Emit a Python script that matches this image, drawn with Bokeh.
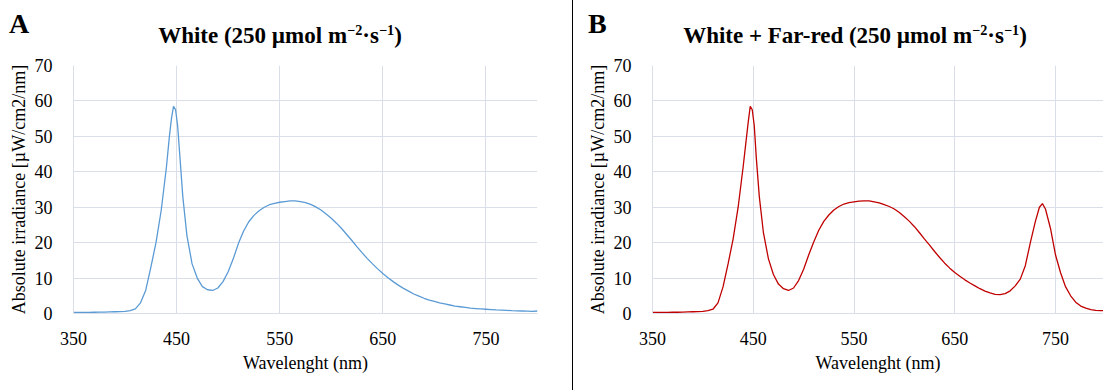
from bokeh.plotting import figure
from bokeh.models import Div, FixedTicker, Range1d
from bokeh.layouts import row, column
from bokeh.embed import file_html
from bokeh.resources import INLINE

# ---------------- data ----------------
x_ticks = [350, 450, 550, 650, 750]
y_ticks = [0, 10, 20, 30, 40, 50, 60, 70]

wl_white = [350, 355, 360, 365, 370, 375, 380, 385, 390, 395, 400, 405, 410, 415, 420, 425,
            430, 435, 440, 443, 445, 447, 449, 451, 453, 456, 460, 465, 470, 475, 480, 485,
            490, 495, 500, 505, 510, 515, 520, 525, 530, 535, 540, 545, 550, 555, 560, 565,
            570, 575, 580, 585, 590, 595, 600, 605, 610, 615, 620, 625, 630, 635, 640, 645,
            650, 655, 660, 665, 670, 675, 680, 685, 690, 695, 700, 705, 710, 715, 720, 725,
            730, 735, 740, 745, 750, 755, 760, 765, 770, 775, 780, 785, 790, 795, 800]
irr_white = [0.3, 0.3, 0.3, 0.3, 0.35, 0.4, 0.4, 0.45, 0.5, 0.55, 0.6, 0.8, 1.3, 3.0, 6.5, 13.0,
             20.0, 29.0, 41.0, 50.0, 55.0, 58.5, 57.5, 53.0, 45.0, 33.0, 22.0, 14.0, 10.0, 7.6, 6.7, 6.5,
             7.2, 9.0, 11.8, 15.5, 19.8, 23.3, 25.9, 27.7, 29.0, 30.0, 30.7, 31.1, 31.4, 31.6, 31.8, 31.8,
             31.6, 31.3, 30.8, 30.1, 29.2, 28.1, 26.9, 25.5, 24.0, 22.3, 20.6, 18.8, 17.1, 15.5, 14.0, 12.6,
             11.3, 10.1, 9.0, 8.0, 7.1, 6.3, 5.5, 4.9, 4.3, 3.8, 3.4, 3.0, 2.7, 2.4, 2.1, 1.9,
             1.7, 1.5, 1.4, 1.3, 1.2, 1.1, 1.0, 0.95, 0.9, 0.8, 0.75, 0.7, 0.65, 0.6, 0.7]

wl_fr = [350, 355, 360, 365, 370, 375, 380, 385, 390, 395, 400, 405, 410, 415, 420, 425,
         430, 435, 440, 445, 447, 449, 451, 453, 456, 460, 465, 470, 475, 480, 485, 490,
         495, 500, 505, 510, 515, 520, 525, 530, 535, 540, 545, 550, 555, 560, 565, 570,
         575, 580, 585, 590, 595, 600, 605, 610, 615, 620, 625, 630, 635, 640, 645, 650,
         655, 660, 665, 670, 675, 680, 685, 690, 695, 700, 705, 710, 715, 720, 725, 730,
         734, 737, 740, 745, 750, 755, 760, 765, 770, 775, 780, 785, 790, 795, 800]
irr_fr = [0.3, 0.3, 0.3, 0.3, 0.35, 0.35, 0.4, 0.45, 0.5, 0.55, 0.6, 0.8, 1.2, 3.0, 7.5, 14.0,
          21.0, 30.0, 41.5, 54.0, 58.5, 57.5, 53.0, 44.0, 33.0, 23.0, 15.5, 11.0, 8.3, 7.0, 6.5, 7.2,
          9.3, 12.5, 16.5, 20.2, 23.5, 26.0, 27.8, 29.2, 30.2, 30.9, 31.3, 31.5, 31.7, 31.8, 31.8, 31.5,
          31.2, 30.7, 30.2, 29.5, 28.5, 27.3, 26.0, 24.5, 22.8, 21.0, 19.3, 17.5, 15.8, 14.2, 12.8, 11.6,
          10.5, 9.5, 8.6, 7.8, 7.0, 6.3, 5.8, 5.4, 5.3, 5.6, 6.4, 7.8, 9.7, 13.5, 20.0, 26.0,
          30.0, 31.0, 29.5, 24.0, 16.5, 11.5, 7.5, 5.0, 3.2, 2.1, 1.5, 1.1, 0.9, 0.8, 0.8]

SUP = '<sup style="font-size:62%;line-height:0;vertical-align:0.55em;">'
title_a = "White (250 µmol m" + SUP + "−2</sup>·s" + SUP + "−1</sup>)"
title_b = "White + Far-red (250 µmol m" + SUP + "−2</sup>·s" + SUP + "−1</sup>)"
x_label = "Wavelenght (nm)"
y_label = "Absolute irradiance [µW/cm2/nm]"

SERIF = "Liberation Serif"
CSS_SERIF = "'Liberation Serif','Times New Roman',serif"
GRID = "#D9DEE8"
HEADER_H = 50
TOTAL_H = 390


def header(width, letter, letter_left, title, title_center):
    html = (
        f'<div style="position:relative;width:{width}px;height:{HEADER_H}px;'
        f'font-family:{CSS_SERIF};color:black;">'
        f'<span style="position:absolute;left:{letter_left}px;top:9.5px;font-size:28px;'
        f'font-weight:bold;line-height:28px;">{letter}</span>'
        f'<span style="position:absolute;left:{title_center - 300}px;top:23.7px;width:600px;'
        f'text-align:center;font-size:23px;font-weight:bold;line-height:23px;'
        f'white-space:nowrap;">{title}</span></div>'
    )
    return Div(text=html, width=width, height=HEADER_H, margin=0)


def make_panel(width, border_left, border_right, x_end, xs, ys, color):
    p = figure(width=width, height=TOTAL_H - HEADER_H, x_range=Range1d(350, x_end),
               y_range=Range1d(0, 70), output_backend="svg", toolbar_location=None,
               min_border_left=border_left, min_border_right=border_right,
               min_border_top=65 - HEADER_H, min_border_bottom=TOTAL_H - 313)
    p.outline_line_color = None
    p.background_fill_color = "white"
    p.border_fill_color = "white"
    p.line(xs, ys, line_color=color, line_width=1.3)

    p.xaxis.ticker = FixedTicker(ticks=x_ticks)
    p.yaxis.ticker = FixedTicker(ticks=y_ticks)
    for ax in (p.xaxis[0], p.yaxis[0]):
        ax.major_tick_line_color = None
        ax.minor_tick_line_color = None
        ax.axis_line_color = GRID
        ax.axis_line_width = 1
        ax.major_label_text_font = SERIF
        ax.major_label_text_font_size = "18px"
        ax.major_label_text_color = "black"
        ax.axis_label_text_font = SERIF
        ax.axis_label_text_font_size = "18px"
        ax.axis_label_text_font_style = "normal"
        ax.axis_label_text_color = "black"
    p.xaxis.axis_label = x_label
    p.yaxis.axis_label = y_label
    p.xaxis.major_label_standoff = 12
    p.xaxis.axis_label_standoff = 5
    p.yaxis.major_label_standoff = 15
    p.yaxis.axis_label_standoff = 3

    p.xgrid.ticker = FixedTicker(ticks=x_ticks)
    p.ygrid.ticker = FixedTicker(ticks=y_ticks)
    p.xgrid.grid_line_color = GRID
    p.ygrid.grid_line_color = GRID
    p.xgrid.grid_line_width = 1
    p.ygrid.grid_line_width = 1
    return p


W_A = 572
W_B = 530
pA = make_panel(W_A, 73, 35, 800, wl_white, irr_white, "#5B9BD5")
pB = make_panel(W_B, 79, 0, 797.6, wl_fr, irr_fr, "#C00000")
hA = header(W_A, "A", 9, title_a, 280)
hB = header(W_B, "B", 15, title_b, 282)

divider = Div(text="", width=1, height=TOTAL_H, margin=0,
              styles={"background-color": "black"})

layout = row(column(hA, pA, spacing=0), divider, column(hB, pB, spacing=0), spacing=0)
open("out.html", "w").write(file_html(layout, INLINE))
